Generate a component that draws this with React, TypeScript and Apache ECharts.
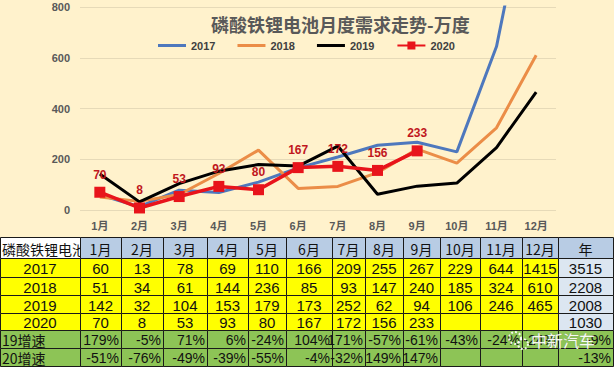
import React, { useEffect, useRef } from "react";
import * as echarts from "echarts";

const months = ["1月", "2月", "3月", "4月", "5月", "6月", "7月", "8月", "9月", "10月", "11月", "12月"];
const yearNames = ["2017", "2018", "2019", "2020"];
const s2017 = [60, 13, 78, 69, 110, 166, 209, 255, 267, 229, 644, 1415];
const s2018 = [51, 34, 61, 144, 236, 85, 93, 147, 240, 185, 324, 610];
const s2019 = [142, 32, 104, 153, 179, 173, 252, 62, 94, 106, 246, 465];
const s2020 = [70, 8, 53, 93, 80, 167, 172, 156, 233];
const totals = [3515, 2208, 2008, 1030];
const growthNames = ["19增速", "20增速"];
const growth19 = ["179%", "-5%", "71%", "6%", "-24%", "104%", "171%", "-57%", "-61%", "-43%", "-24%", "-24%"];
const growth20 = ["-51%", "-76%", "-49%", "-39%", "-55%", "-4%", "-32%", "149%", "147%", "", "", ""];
const growthTotals = ["-9%", "-13%"];
const tableTitle = "磷酸铁锂电池";
const totalHeader = "年";
const chartTitle = "磷酸铁锂电池月度需求走势-万度";
const watermark = "中新汽车";
const yMin = 0;
const yMax = 800;
const yInterval = 200;

const colEdges = [0, 80, 121, 163, 207, 248, 286, 332, 365, 403, 440, 480, 522, 558, 613];
const rowEdges = [237, 258, 277, 295, 313, 330, 348, 366];

const FONT = "'Liberation Sans', 'Noto Sans CJK SC', sans-serif";
const CJK = "'Noto Sans CJK SC', sans-serif";
const LINE_ICON = "path://M0,0 L28,0 L28,3 L0,3 Z";

function buildTable(): any[] {
  const els: any[] = [];
  const yellow = "#FFFF00";
  const blue = "#B8CCE4";
  const pale = "#DCE6F1";
  const green = "#8DC456";
  const yearRows = [s2017, s2018, s2019, s2020];
  const nRows = rowEdges.length - 1;
  const nCols = colEdges.length - 1;
  for (let r = 0; r < nRows; r++) {
    for (let c = 0; c < nCols; c++) {
      let fill = yellow;
      if (r === 0) fill = c === 0 ? "#FFFFFF" : blue;
      else if (r <= 4) fill = c === nCols - 1 ? pale : yellow;
      else fill = green;
      const x = colEdges[c];
      const y = rowEdges[r];
      const w = colEdges[c + 1] - x;
      const h = rowEdges[r + 1] - y;
      els.push({
        type: "rect",
        z: r === 0 && c === 0 ? 0 : 2,
        shape: { x: x + 0.5, y: y + 0.5, width: w, height: h },
        style: { fill, stroke: "#1a1a1a", lineWidth: 1 },
      });
      let txt = "";
      let align: "left" | "center" | "right" = "center";
      let font = FONT;
      let size = 15;
      if (r === 0) {
        if (c === 0) { txt = tableTitle; align = "left"; font = CJK; size = 14; }
        else if (c === nCols - 1) { txt = totalHeader; font = CJK; size = 14; }
        else { txt = months[c - 1]; font = CJK; size = 14; }
      } else if (r <= 4) {
        const yi = r - 1;
        if (c === 0) txt = yearNames[yi];
        else if (c === nCols - 1) txt = String(totals[yi]);
        else {
          const v = yearRows[yi][c - 1];
          txt = v === undefined ? "" : String(v);
        }
      } else {
        const gi = r - 5;
        const arr = gi === 0 ? growth19 : growth20;
        size = 14;
        if (c === 0) { txt = growthNames[gi]; align = "left"; font = CJK; size = 14; }
        else if (c === nCols - 1) { txt = growthTotals[gi]; align = "right"; }
        else { txt = arr[c - 1]; align = "right"; }
      }
      if (txt) {
        const tx = align === "left" ? x + 2 : align === "right" ? x + w - 2 : x + w / 2;
        els.push({
          type: "text",
          z: r === 0 && c === 0 ? 1 : 3,
          x: tx,
          y: y + h / 2 + 1,
          style: {
            text: txt,
            fill: "#111111",
            font: `${size}px ${font}`,
            align,
            verticalAlign: "middle",
          },
        });
      }
    }
  }
  // watermark
  els.push({
    type: "circle", z: 5,
    shape: { cx: 515, cy: 338, r: 6 },
    style: { fill: "rgba(255,255,255,0)", stroke: "rgba(255,255,255,0.9)", lineWidth: 2, lineDash: [2, 2] },
  });
  els.push({
    type: "circle", z: 5,
    shape: { cx: 523, cy: 344, r: 5 },
    style: { fill: "rgba(255,255,255,0)", stroke: "rgba(255,255,255,0.9)", lineWidth: 2, lineDash: [2, 2] },
  });
  els.push({
    type: "text", z: 5,
    x: 531, y: 340,
    style: {
      text: watermark,
      fill: "rgba(255,255,255,0.95)",
      font: `16px ${CJK}`,
      align: "left",
      verticalAlign: "middle",
      stroke: "rgba(140,140,140,0.5)",
      lineWidth: 0.5,
    },
  });
  return els;
}

export default function App() {
  const ref = useRef<HTMLDivElement>(null);
  useEffect(() => {
    if (!ref.current) return;
    const chart = echarts.init(ref.current, undefined, { renderer: "svg" });
    const axisText = { color: "#595959", fontSize: 11, fontWeight: "bold" as const, fontFamily: FONT };
    chart.setOption({
      animation: false,
      backgroundColor: "#FFF2CC",
      title: {
        text: chartTitle,
        left: 211,
        top: 15,
        padding: 0,
        textStyle: { fontSize: 18, fontWeight: "bold", color: "#595959", fontFamily: CJK },
      },
      legend: {
        top: 40,
        left: 158,
        itemWidth: 28,
        itemHeight: 10,
        itemGap: 22,
        padding: 0,
        data: [
          { name: yearNames[0], icon: LINE_ICON },
          { name: yearNames[1], icon: LINE_ICON },
          { name: yearNames[2], icon: LINE_ICON },
          { name: yearNames[3] },
        ],
        textStyle: { color: "#404040", fontSize: 11, fontWeight: "bold", fontFamily: FONT },
      },
      grid: { left: 80, right: 58, top: 7, bottom: 157, containLabel: false },
      xAxis: {
        type: "category",
        data: months,
        boundaryGap: true,
        axisLine: { show: false },
        axisTick: { show: false },
        axisLabel: { ...axisText, margin: 10 },
      },
      yAxis: {
        type: "value",
        min: yMin,
        max: yMax,
        interval: yInterval,
        axisLine: { show: false },
        axisTick: { show: false },
        axisLabel: { ...axisText, margin: 10 },
        splitLine: { lineStyle: { color: "#E6DAB8", width: 1 } },
      },
      series: [
        {
          name: yearNames[0], type: "line", data: s2017, symbol: "none",
          lineStyle: { color: "#4E78BD", width: 3 }, itemStyle: { color: "#4E78BD" },
        },
        {
          name: yearNames[1], type: "line", data: s2018, symbol: "none",
          lineStyle: { color: "#EB8D47", width: 3 }, itemStyle: { color: "#EB8D47" },
        },
        {
          name: yearNames[2], type: "line", data: s2019, symbol: "none",
          lineStyle: { color: "#000000", width: 3 }, itemStyle: { color: "#000000" },
        },
        {
          name: yearNames[3], type: "line", data: s2020, symbol: "rect", symbolSize: 11,
          lineStyle: { color: "#E8141B", width: 3.5 }, itemStyle: { color: "#E8141B" },
          label: { show: true, position: "top", distance: 6, color: "#C0171D", fontSize: 12, fontWeight: "bold", fontFamily: FONT },
        },
      ],
      graphic: buildTable(),
    });
    return () => chart.dispose();
  }, []);
  return <div ref={ref} style={{ position: "absolute", left: 0, top: 0, width: 614, height: 367 }} />;
}
